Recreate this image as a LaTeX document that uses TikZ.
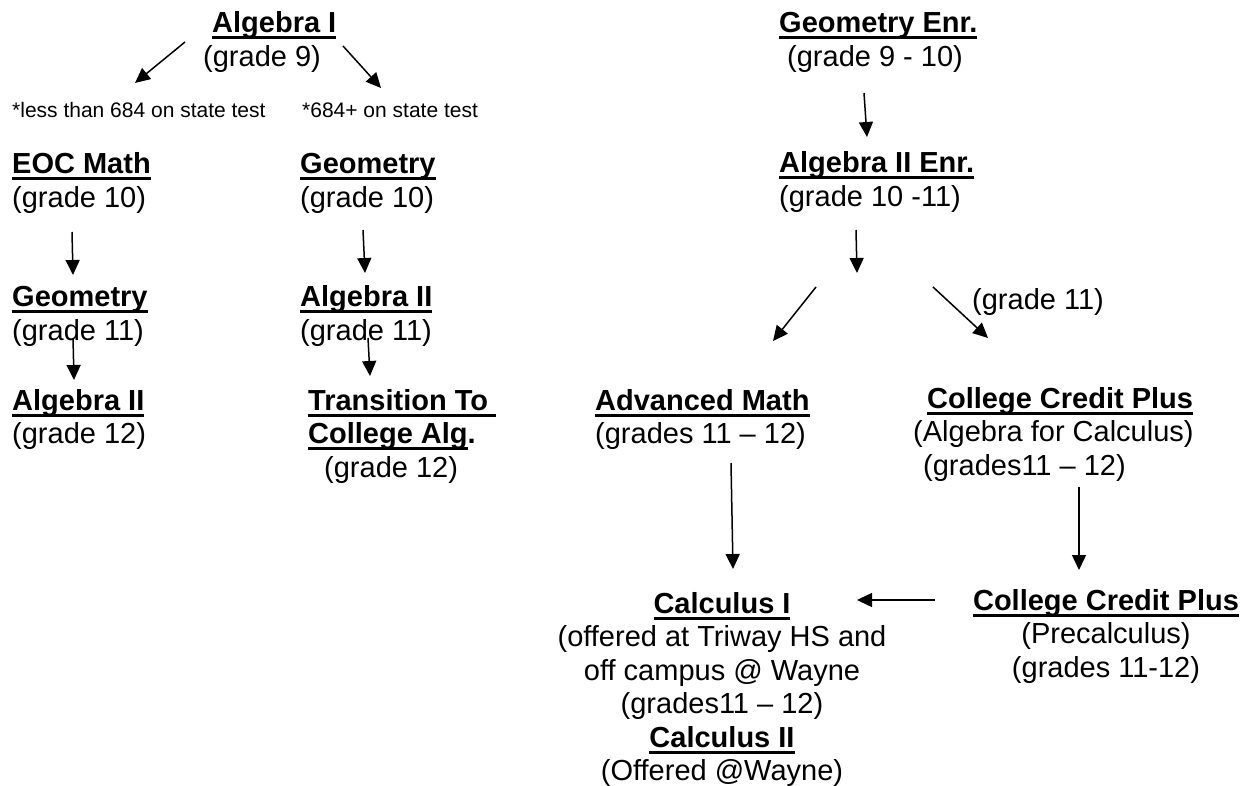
\documentclass[tikz,border=0pt]{standalone}
\usepackage{fontspec}
\setmainfont{Liberation Sans}
\usetikzlibrary{arrows.meta}
\newcommand{\crsfont}{\fontsize{29}{33.5}\selectfont}
\newcommand{\notefont}{\fontsize{21}{24}\selectfont}
\newcommand{\ulin}[1]{\setbox0=\hbox{\bfseries #1}\rlap{\rule[-6.5pt]{\wd0}{3pt}}\box0}

\begin{document}
\begin{tikzpicture}[x=1pt, y=-1pt,
  crs/.style={anchor=base west, align=left, inner sep=0pt, font=\crsfont},
  crsc/.style={crs, anchor=base, align=center},
  note/.style={anchor=base west, inner sep=0pt, font=\notefont},
  arr/.style={-{Triangle[length=15pt,width=14pt]}, line width=1.5pt},
]
\path[use as bounding box, fill=white] (0,0) rectangle (1243,786);

% --- regular track (y = baseline of last line) ---
\node[crs] (alg1) at (203,66.5) {\hspace*{9pt}\ulin{Algebra I}\\(grade 9)};
\node[note] (low)  at (12,118)  {*less than 684 on state test};
\node[note] (high) at (302,118) {*684+ on state test};
\node[crs] (eoc)   at (12,207.5)  {\ulin{EOC Math}\\(grade 10)};
\node[crs] (geoM)  at (300,207.5) {\ulin{Geometry}\\(grade 10)};
\node[crs] (geoL)  at (12,340.5)  {\ulin{Geometry}\\(grade 11)};
\node[crs] (alg2M) at (300,340.5) {\ulin{Algebra II}\\(grade 11)};
\node[crs] (alg2L) at (12,443.5)  {\ulin{Algebra II}\\(grade 12)};
\node[crs] (trans) at (308,477) {\ulin{Transition To\ }\\\ulin{College Alg}\textbf{.}\\\hspace*{16pt}(grade 12)};

% --- enriched track ---
\node[crs] (geoE)  at (779,66.5)  {\ulin{Geometry Enr.}\\\hspace*{8pt}(grade 9 - 10)};
\node[crs] (alg2E) at (779,206.5) {\ulin{Algebra II Enr.}\\(grade 10 -11)};
\node[crs] (gr11)  at (972,310) {(grade 11)};
\node[crs] (advm)  at (595,443.5) {\ulin{Advanced Math}\\(grades 11 – 12)};
\node[crs] (ccpA)  at (913,475) {\hspace*{14pt}\ulin{College Credit Plus}\\(Algebra for Calculus)\\\hspace*{10pt}(grades11 – 12)};
\node[crsc] (calc) at (722,780.5) {\ulin{Calculus I}\\(offered at Triway HS and\\off campus @ Wayne\\(grades11 – 12)\\\ulin{Calculus II}\\(Offered @Wayne)};
\node[crsc] (ccpP) at (1106,677) {\ulin{College Credit Plus}\\(Precalculus)\\(grades 11-12)};

% arrow ends
\coordinate (alg1-a) at (185,42);  \coordinate (low-a)   at (135,83);
\coordinate (alg1-b) at (343,46);  \coordinate (high-a)  at (381,88);
\coordinate (eoc-a)  at (72,232);  \coordinate (geoL-a)  at (73,275);
\coordinate (geoM-a) at (363,230); \coordinate (alg2M-a) at (365,273);
\coordinate (geoL-b) at (73,338);  \coordinate (alg2L-a) at (74,380);
\coordinate (alg2M-b) at (368,338); \coordinate (trans-a) at (370,376);
\coordinate (geoE-a) at (864,93);  \coordinate (alg2E-a) at (867,137);
\coordinate (alg2E-b) at (856,230); \coordinate (split)  at (857,273);
\coordinate (split-l) at (816,287); \coordinate (advm-a) at (773,341);
\coordinate (split-r) at (933,287); \coordinate (ccpA-a) at (988,338);
\coordinate (advm-b) at (731,463); \coordinate (calc-a)  at (733,569);
\coordinate (ccpA-b) at (1079,487); \coordinate (ccpP-a) at (1079,570);
\coordinate (ccpP-b) at (935,600); \coordinate (calc-b)  at (857,600);

\foreach \a/\b in {alg1-a/low-a, alg1-b/high-a, eoc-a/geoL-a, geoM-a/alg2M-a,
  geoL-b/alg2L-a, alg2M-b/trans-a, geoE-a/alg2E-a, alg2E-b/split,
  split-l/advm-a, split-r/ccpA-a, advm-b/calc-a, ccpA-b/ccpP-a, ccpP-b/calc-b}
  \draw[arr] (\a) -- (\b);
\end{tikzpicture}
\end{document}
